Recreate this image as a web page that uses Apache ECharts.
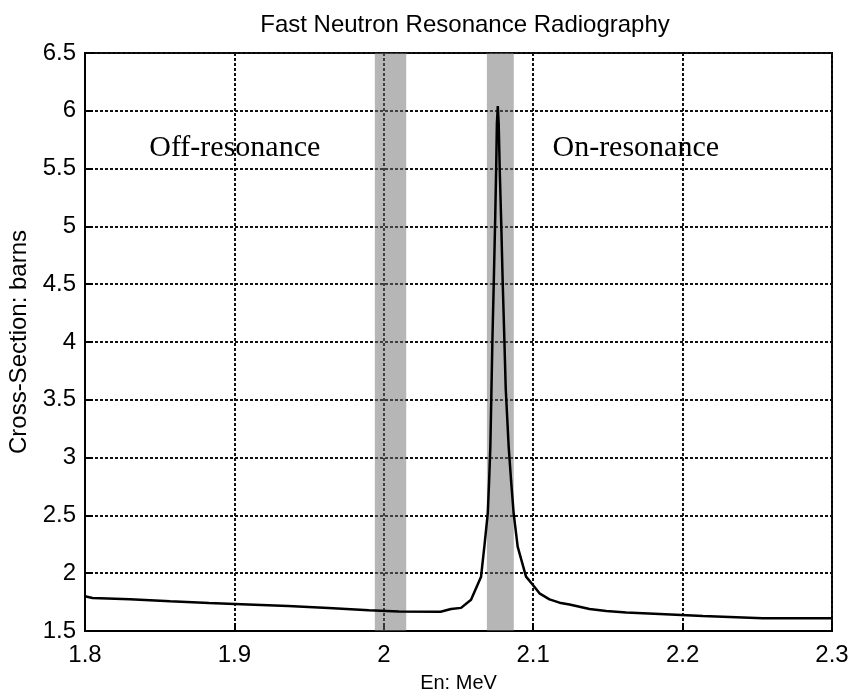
<!DOCTYPE html>
<html><head><meta charset="utf-8">
<script src="https://cdn.jsdelivr.net/npm/echarts@6/dist/echarts.min.js"></script>
<style>html,body{margin:0;padding:0;background:#fff}#c{width:855px;height:700px}</style>
</head><body><div id="c"></div>
<script>
var titleText = 'Fast Neutron Resonance Radiography';
var xName = 'En: MeV';
var yName = 'Cross-Section: barns';
var energy = [1.800, 1.805, 1.830, 1.857, 1.883, 1.909, 1.936, 1.963, 1.990, 2.010, 2.038, 2.045, 2.0517, 2.0584, 2.0651, 2.0673, 2.0696, 2.0705, 2.0713, 2.0720, 2.0727, 2.0736, 2.0745, 2.0752, 2.0757, 2.0763, 2.0769, 2.0776, 2.0786, 2.0796, 2.0807, 2.0816, 2.0836, 2.0852, 2.0869, 2.0896, 2.0952, 2.0997, 2.1042, 2.1109, 2.1176, 2.1243, 2.1377, 2.1489, 2.1623, 2.1846, 2.2136, 2.2538, 2.300];
var crossSection = [1.80, 1.785, 1.775, 1.758, 1.742, 1.730, 1.716, 1.700, 1.680, 1.668, 1.666, 1.690, 1.700, 1.770, 1.970, 2.230, 2.520, 2.800, 3.090, 3.550, 4.020, 4.510, 5.030, 5.490, 5.890, 6.040, 5.890, 5.490, 5.030, 4.510, 4.020, 3.600, 3.090, 2.800, 2.520, 2.230, 1.970, 1.900, 1.826, 1.774, 1.745, 1.730, 1.690, 1.673, 1.660, 1.647, 1.630, 1.610, 1.610];
var bands = [[1.994, 2.015], [2.069, 2.087]];
var annotations = [['Off-resonance', 1.843, 5.68], ['On-resonance', 2.1129, 5.68]];
var xTicks = [1.8, 2.3, 0.1];
var yTicks = [1.5, 6.5, 0.5];

var chart = echarts.init(document.getElementById('c'));
var pts = energy.map(function(e, i){ return [e, crossSection[i]]; });
var gridLine = {show: true, lineStyle: {color: '#111', width: 2, type: [3, 2]}};
chart.setOption({
  animation: false,
  backgroundColor: '#fff',
  title: {text: titleText, left: 460, textAlign: 'center', top: 8,
    textStyle: {fontFamily: 'Liberation Sans', fontSize: 24, fontWeight: 'normal', color: '#000'}},
  grid: {left: 85, right: 23, top: 53, bottom: 69, show: true, borderColor: '#000', borderWidth: 2, outerBoundsMode: 'none'},
  xAxis: {type: 'value', min: xTicks[0], max: xTicks[1], interval: xTicks[2],
    name: xName, nameLocation: 'middle', nameGap: 42,
    nameTextStyle: {fontFamily: 'Liberation Sans', fontSize: 20, color: '#000'},
    axisLine: {lineStyle: {color: '#000', width: 2}},
    axisTick: {inside: true, length: 8, lineStyle: {color: '#000', width: 2}},
    axisLabel: {fontFamily: 'Liberation Sans', fontSize: 24, color: '#000', margin: 12},
    splitLine: gridLine},
  yAxis: {type: 'value', min: yTicks[0], max: yTicks[1], interval: yTicks[2],
    name: yName, nameLocation: 'middle', nameGap: 50,
    nameTextStyle: {fontFamily: 'Liberation Sans', fontSize: 24, color: '#000'},
    axisLine: {show: true, lineStyle: {color: '#000', width: 2}},
    axisTick: {inside: true, length: 8, lineStyle: {color: '#000', width: 2}},
    axisLabel: {fontFamily: 'Liberation Sans', fontSize: 24, color: '#000', margin: 9},
    splitLine: gridLine},
  series: [{
    type: 'line', data: pts, symbol: 'none', smooth: false,
    lineStyle: {color: '#000', width: 2.5},
    z: 5,
    markArea: {silent: true, itemStyle: {color: 'rgba(110,110,110,0.5)'},
      data: bands.map(function(b){ return [{xAxis: b[0]}, {xAxis: b[1]}]; })}
  }]
});
var g = annotations.map(function(a){
  var p = chart.convertToPixel({gridIndex: 0}, [a[1], a[2]]);
  return {type: 'text', x: p[0], y: p[1], z: 10,
    style: {text: a[0], fontFamily: 'Liberation Serif', fontSize: 30, fill: '#000', textVerticalAlign: 'middle'}};
});
chart.setOption({graphic: g});
</script></body></html>
